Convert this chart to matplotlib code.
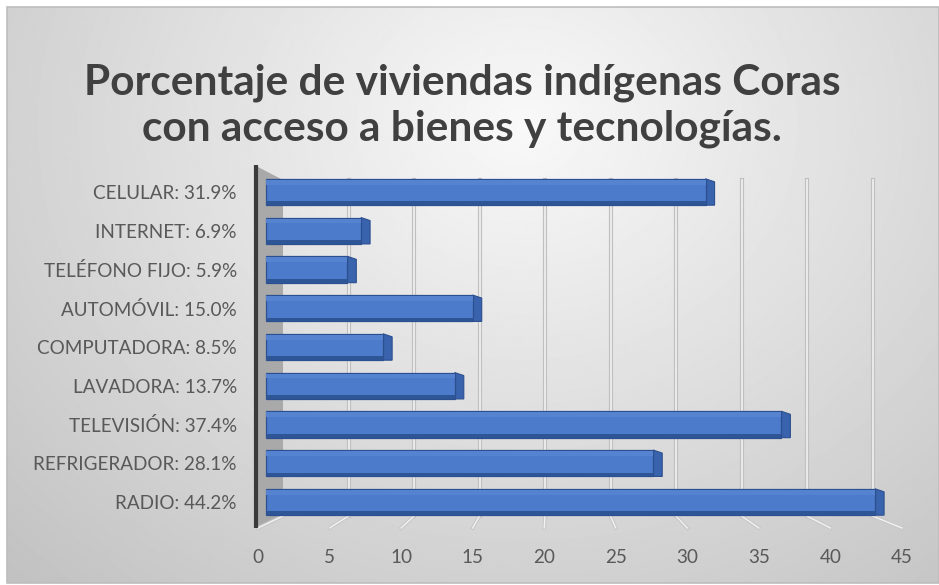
import numpy as np
import matplotlib.pyplot as plt
from matplotlib.patches import Polygon, Rectangle

# ---- data ----
categories = ["RADIO", "REFRIGERADOR", "TELEVISIÓN", "LAVADORA", "COMPUTADORA",
              "AUTOMÓVIL", "TELÉFONO FIJO", "INTERNET", "CELULAR"]
values = [44.2, 28.1, 37.4, 13.7, 8.5, 15.0, 5.9, 6.9, 31.9]
x_ticks = [0, 5, 10, 15, 20, 25, 30, 35, 40, 45]
title = "Porcentaje de viviendas indígenas Coras\ncon acceso a bienes y tecnologías."

W, H = 939, 585
FONT = "Lato"
TEXT_DARK = "#404040"
TEXT_MID = "#595959"

fig = plt.figure(figsize=(W / 100, H / 100), dpi=100)

# ---- chart area background: soft radial gradient inside a thin frame ----
bg = fig.add_axes([0, 0, 1, 1], zorder=-10)
bg.set_xlim(0, W)
bg.set_ylim(H, 0)
bg.axis("off")
yy, xx = np.mgrid[0:H, 0:W]
d = np.hypot((xx - 520) / 650.0, (yy - 120) / 560.0)
shade = np.clip(0.975 - 0.19 * d, 0.76, 1.0)
bg.imshow(shade, cmap="gray", vmin=0, vmax=1, extent=(7, W, 583, 7),
          interpolation="bilinear", aspect="auto")
bg.add_patch(Rectangle((7, 7), W - 7, 576, fill=False, edgecolor="#bdbdbd", lw=1.2))

# ---- plot axes (front plane of the pseudo-3D plot) ----
PX_X = 13.78      # pixels per x unit on the front plane
PX_Y = 38.75      # pixels per category
X0_PX = 266.0     # pixel column of x = 0 on the front plane
Y0_PX = 502.0     # pixel row of the first category
xlo, xhi = -1.5, 46.5
ylo, yhi = -0.75, 8.75
left = X0_PX + xlo * PX_X
right = X0_PX + xhi * PX_X
top = Y0_PX - yhi * PX_Y
bottom = Y0_PX - ylo * PX_Y
ax = fig.add_axes([left / W, 1 - bottom / H, (right - left) / W, (bottom - top) / H])
ax.set_xlim(xlo, xhi)
ax.set_ylim(ylo, yhi)
ax.patch.set_alpha(0)
for s in ax.spines.values():
    s.set_visible(False)


def px_x(p):
    return (p - X0_PX) / PX_X


def px_y(p):
    return (Y0_PX - p) / PX_Y


# back plane geometry
BACK_X0, BACK_K = px_x(283), 13.1 / PX_X
BACK_TOP, BACK_FLOOR = px_y(180), px_y(516)
FRONT_FLOOR = px_y(528)
LABEL_X0, LABEL_K = px_x(258), 14.31 / PX_X


def back_x(v):
    return BACK_X0 + BACK_K * v


def label_x(v):
    return LABEL_X0 + LABEL_K * v


# side wall
wall = Polygon([(px_x(256), px_y(166)), (back_x(0), BACK_TOP), (back_x(0), BACK_FLOOR),
                (px_x(258), FRONT_FLOOR)], closed=True, facecolor="#a9a9a9",
               edgecolor="none", zorder=1)
ax.add_patch(wall)
ax.plot([px_x(256), px_x(256)], [px_y(165), px_y(528)], color="#3a3a3a", lw=3,
        solid_capstyle="butt", zorder=2)

# back-wall gridlines and floor lines
for v in x_ticks[1:]:
    xb = back_x(v)
    ax.plot([xb, xb], [BACK_FLOOR, BACK_TOP], color="#c0c0c0", lw=3, zorder=1)
    ax.plot([xb, xb], [BACK_FLOOR, BACK_TOP], color="#f2f2f2", lw=1.2, zorder=1)
for v in x_ticks:
    xs = [back_x(v), label_x(v)]
    ys = [BACK_FLOOR, FRONT_FLOOR]
    ax.plot(xs, ys, color="#c8c8c8", lw=2.6, zorder=1)
    ax.plot(xs, ys, color="#f2f2f2", lw=1.0, zorder=1)

# ---- bars ----
FACE = "#4c7bcb"
EDGE = "#2c4f8f"
SIDE = "#3a63ad"
BOTTOM = "#2e5596"
h = 0.68
dx, dy = px_x(X0_PX + 9), 3 / PX_Y
ypos = np.arange(len(categories))
for i, v in zip(ypos, values):
    side = Polygon([(v, i + h / 2), (v + dx, i + h / 2 - dy), (v + dx, i - h / 2),
                    (v, i - h / 2)], closed=True, facecolor=SIDE, edgecolor=EDGE,
                   lw=0.8, zorder=3)
    ax.add_patch(side)
ax.barh(ypos, values, height=h, left=0, color=FACE, edgecolor=EDGE, lw=0.9, zorder=4)
ax.barh(ypos - h / 2 + 0.05, values, height=0.1, left=0, color=BOTTOM, lw=0, zorder=5)
ax.barh(ypos + h / 2 - 0.09, values, height=0.12, left=0, color="#5583d0", lw=0, zorder=5)

# ---- category labels ----
ax.set_yticks(ypos)
ax.set_yticklabels([f"{c}: {v:.1f}%" for c, v in zip(categories, values)],
                   fontname=FONT, fontsize=13.6, color=TEXT_MID)
ax.tick_params(axis="y", length=0, pad=6)
ax.set_xticks([])

# ---- value axis labels along the front floor edge ----
sec = ax.secondary_xaxis("bottom",
                         functions=(lambda x: (x - LABEL_X0) / LABEL_K,
                                    lambda s: LABEL_X0 + LABEL_K * s))
sec.set_xticks(x_ticks)
sec.set_xticklabels([str(t) for t in x_ticks], fontname=FONT, fontsize=13.6, color=TEXT_MID)
sec.tick_params(length=0, pad=13)
sec.spines["bottom"].set_visible(False)

# ---- title ----
fig.text(462 / W, 1 - 106 / H, title, ha="center", va="center", fontname=FONT,
         fontweight="bold", fontsize=30.5, color=TEXT_DARK, linespacing=1.24)

fig.savefig("out.png", dpi=100)
